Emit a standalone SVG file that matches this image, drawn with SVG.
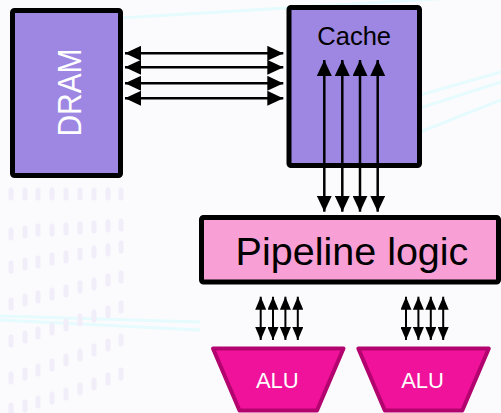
<svg xmlns="http://www.w3.org/2000/svg" width="501" height="413" viewBox="0 0 501 413">
  <defs>
    <style>
      .box { stroke: #000; stroke-width: 5; stroke-linejoin: round; }
      .dram { fill: #9e87e2; }
      .cache { fill: #9e87e2; }
      .pipe { fill: #f89fd5; }
      .alu { fill: #f0129a; stroke: #b3036f; stroke-width: 4; stroke-linejoin: round; }
      .wire { stroke: #000; stroke-width: 2.5; fill: none; }
      .thin { stroke: #000; stroke-width: 2; fill: none; }
      .lbl { font-family: "Liberation Sans", Arial, sans-serif; }
      .deco { stroke: #e6fbfd; stroke-width: 3; fill: none; }
      .dash { stroke: #f1eefa; stroke-width: 5; stroke-linecap: round; }
    </style>
    <marker id="head" viewBox="0 0 16 15" refX="16" refY="7.5" markerWidth="16" markerHeight="15" markerUnits="userSpaceOnUse" orient="auto-start-reverse">
      <path d="M0,0 L16,7.5 L0,15 Z" fill="#000"/>
    </marker>
    <marker id="small" viewBox="0 0 13 11" refX="13" refY="5.5" markerWidth="13" markerHeight="11" markerUnits="userSpaceOnUse" orient="auto-start-reverse">
      <path d="M0,0 L13,5.5 L0,11 Z" fill="#000"/>
    </marker>
  </defs>

  <!-- backdrop -->
  <rect x="0" y="0" width="501" height="413" fill="#fbfbfd"/>
  <g id="backdrop">
    <path class="deco" d="M120,18 L501,-5"/>
    <path class="deco" d="M420,95 L501,72"/>
    <path class="deco" d="M420,108 L501,82"/>
    <path class="deco" d="M420,132 L501,100"/>
    <path class="deco" d="M0,316 L200,322"/>
    <path class="deco" d="M0,320 L200,330"/>
    <g class="dash">
      <path d="M11,230 v8 M25,228 v8 M38,226 v8 M52,226 v8 M66,225 v8 M80,224 v8 M94,223 v8 M108,222 v8 M121,221 v8"/>
      <path d="M11,263 v8 M25,260 v8 M38,258 v8 M52,255 v8 M66,253 v8 M80,250 v8 M94,248 v8 M108,246 v8 M121,243 v8"/>
      <path d="M11,300 v8 M25,296 v8 M38,293 v8 M52,290 v8 M66,287 v8 M80,283 v8 M94,280 v8 M108,276 v8 M121,273 v8"/>
      <path d="M11,337 v8 M25,333 v8 M38,329 v8 M52,325 v8 M66,321 v8 M80,316 v8 M94,312 v8 M108,308 v8 M121,303 v8"/>
      <path d="M11,374 v8 M25,370 v8 M38,366 v8 M52,361 v8 M66,356 v8 M80,351 v8 M94,346 v8 M108,341 v8 M121,336 v8"/>
      <path d="M11,405 v8 M25,402 v8 M38,398 v8 M52,394 v8 M66,390 v8 M80,385 v8 M94,380 v8 M108,375 v8 M121,370 v8"/>
      <path d="M11,190 v8 M25,190 v8 M38,190 v8 M52,190 v8 M66,190 v8 M80,190 v8 M94,190 v8 M108,190 v8 M121,190 v8"/>
    </g>
  </g>

  <!-- memory -->
  <g id="dram">
    <rect class="box dram" x="12.5" y="10.5" width="108" height="165" rx="2"/>
    <text class="lbl" x="0" y="0" transform="translate(80.5,92.5) rotate(-90)" text-anchor="middle" font-size="33" fill="#fff" textLength="88" lengthAdjust="spacingAndGlyphs">DRAM</text>
  </g>

  <g id="cache">
    <rect class="box cache" x="289" y="7.5" width="130.5" height="158" rx="2"/>
    <text class="lbl" x="354.2" y="45" text-anchor="middle" font-size="25.5" fill="#000">Cache</text>
  </g>

  <g id="pipeline">
    <rect class="box pipe" x="201.5" y="217.5" width="297" height="64.5" rx="2"/>
    <text class="lbl" x="352" y="265" text-anchor="middle" font-size="39.5" fill="#000">Pipeline logic</text>
  </g>

  <g id="alu1">
    <polygon class="alu" points="213,348.5 343.5,348.5 317,410.5 239.5,410.5"/>
    <text class="lbl" x="277.3" y="388.3" text-anchor="middle" font-size="22" fill="#fff">ALU</text>
  </g>

  <g id="alu2">
    <polygon class="alu" points="358.3,348.5 488.8,348.5 462.3,410.5 384.8,410.5"/>
    <text class="lbl" x="422.6" y="388.3" text-anchor="middle" font-size="22" fill="#fff">ALU</text>
  </g>

  <!-- connectors -->
  <g id="connectors">
    <!-- DRAM <-> Cache bus -->
    <path class="wire" d="M125,53.3 H283.3" marker-start="url(#head)" marker-end="url(#head)"/>
    <path class="wire" d="M125,67.3 H283.3" marker-start="url(#head)" marker-end="url(#head)"/>
    <path class="wire" d="M125,83.3 H283.3" marker-start="url(#head)" marker-end="url(#head)"/>
    <path class="wire" d="M125,98.3 H283.3" marker-start="url(#head)" marker-end="url(#head)"/>
    <!-- Cache <-> Pipeline bus -->
    <path class="wire" d="M324.3,60 V211.7" marker-start="url(#head)" marker-end="url(#head)"/>
    <path class="wire" d="M342.3,60 V211.7" marker-start="url(#head)" marker-end="url(#head)"/>
    <path class="wire" d="M360,60 V211.7" marker-start="url(#head)" marker-end="url(#head)"/>
    <path class="wire" d="M377.7,60 V211.7" marker-start="url(#head)" marker-end="url(#head)"/>
    <!-- Pipeline <-> ALU buses -->
    <path class="thin" d="M260.7,296.7 V340" marker-start="url(#small)" marker-end="url(#small)"/>
    <path class="thin" d="M273,296.7 V340" marker-start="url(#small)" marker-end="url(#small)"/>
    <path class="thin" d="M285.4,296.7 V340" marker-start="url(#small)" marker-end="url(#small)"/>
    <path class="thin" d="M297.8,296.7 V340" marker-start="url(#small)" marker-end="url(#small)"/>
    <path class="thin" d="M406,296.7 V340" marker-start="url(#small)" marker-end="url(#small)"/>
    <path class="thin" d="M418.4,296.7 V340" marker-start="url(#small)" marker-end="url(#small)"/>
    <path class="thin" d="M430.8,296.7 V340" marker-start="url(#small)" marker-end="url(#small)"/>
    <path class="thin" d="M443.2,296.7 V340" marker-start="url(#small)" marker-end="url(#small)"/>
  </g>
</svg>
